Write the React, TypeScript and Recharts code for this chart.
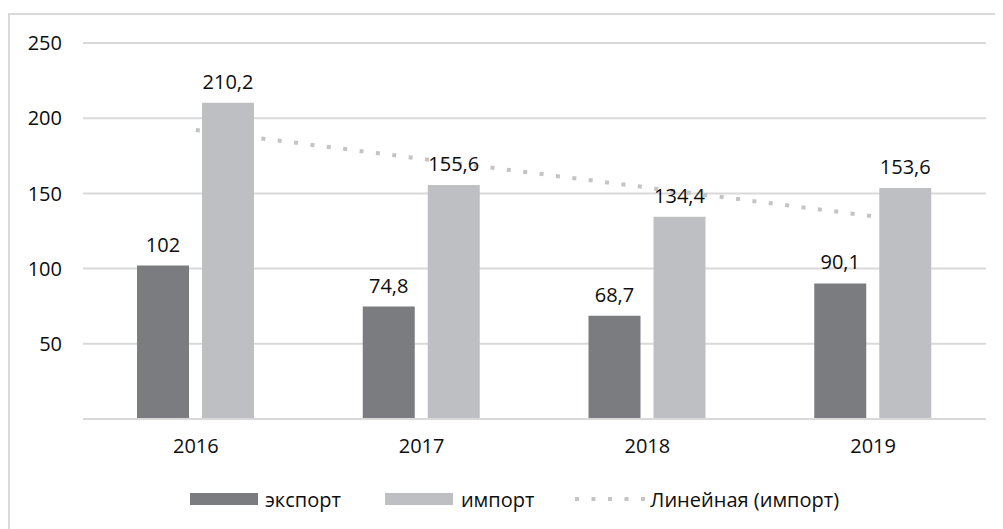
import React from "react";
import {
  ComposedChart,
  Bar,
  Line,
  XAxis,
  YAxis,
  CartesianGrid,
  Legend,
  LabelList,
} from "recharts";

const years = ["2016", "2017", "2018", "2019"];
const exportValues = [102, 74.8, 68.7, 90.1];
const importValues = [210.2, 155.6, 134.4, 153.6];
const trendValues = [192.1, 173.0, 153.9, 134.8];
const yTicks = [50, 100, 150, 200, 250];

const data = years.map((y, i) => ({
  year: y,
  exp: exportValues[i],
  imp: importValues[i],
  trend: trendValues[i],
}));

const DARK = "#7b7c80";
const LIGHT = "#bebfc3";
const TREND = "#c4c4c4";
const GRID = "#d9d9d9";
const TEXT = "#0d0d0d";
const FONT = "'Open Sans', 'Noto Sans', sans-serif";

const fmt = (v: any) => String(v).replace(".", ",");

const LegendContent = () => (
  <div
    style={{
      display: "flex",
      alignItems: "center",
      paddingLeft: 180,
      fontFamily: FONT,
      fontSize: 20,
      color: TEXT,
      height: 24,
      whiteSpace: "nowrap",
    }}
  >
    <div style={{ width: 68, height: 12, background: DARK, marginRight: 7, flex: "none" }} />
    <span style={{ marginRight: 44 }}>экспорт</span>
    <div style={{ width: 68, height: 12, background: LIGHT, marginRight: 8, flex: "none" }} />
    <span style={{ marginRight: 41 }}>импорт</span>
    <svg width={72} height={12} style={{ marginRight: 3, flex: "none" }}>
      <line
        x1={0}
        y1={6}
        x2={72}
        y2={6}
        stroke={TREND}
        strokeWidth={4}
        strokeDasharray="4 12.5"
      />
    </svg>
    <span>Линейная (импорт)</span>
  </div>
);

export default function App() {
  return (
    <div
      style={{
        marginTop: 5,
        width: 1000,
        height: 520,
        border: `2px solid ${GRID}`,
        borderRight: "none",
        borderBottom: "none",
        boxSizing: "border-box",
        background: "#fff",
      }}
    >
      <ComposedChart
        width={990}
        height={510}
        data={data}
        margin={{ top: 28, right: 14, left: 0, bottom: 52 }}
        barSize={52}
        barGap={13}
        style={{ fontFamily: FONT }}
      >
        <CartesianGrid vertical={false} stroke={GRID} strokeWidth={2} />
        <XAxis
          dataKey="year"
          axisLine={{ stroke: GRID, strokeWidth: 2 }}
          tickLine={false}
          tickSize={0}
          tickMargin={20}
          tick={{ fill: TEXT, fontSize: 20, fontFamily: FONT }}
        />
        <YAxis
          domain={[0, 250]}
          ticks={yTicks}
          width={73}
          axisLine={false}
          tickLine={false}
          tickSize={0}
          tickMargin={21}
          tick={{ fill: TEXT, fontSize: 20, fontFamily: FONT }}
        />
        <Line
          dataKey="trend"
          type="linear"
          stroke={TREND}
          strokeWidth={4}
          strokeDasharray="4 12.5"
          dot={false}
          activeDot={false}
          isAnimationActive={false}
          zIndex={250}
        />
        <Bar dataKey="exp" fill={DARK} isAnimationActive={false}>
          <LabelList
            dataKey="exp"
            position="top"
            offset={14}
            formatter={fmt}
            style={{ fill: TEXT, fontSize: 20, fontFamily: FONT }}
          />
        </Bar>
        <Bar dataKey="imp" fill={LIGHT} isAnimationActive={false}>
          <LabelList
            dataKey="imp"
            position="top"
            offset={14}
            formatter={fmt}
            style={{ fill: TEXT, fontSize: 20, fontFamily: FONT }}
          />
        </Bar>
        <Legend
          content={<LegendContent />}
          wrapperStyle={{ left: 0, top: 472, width: 990 }}
        />
      </ComposedChart>
    </div>
  );
}
